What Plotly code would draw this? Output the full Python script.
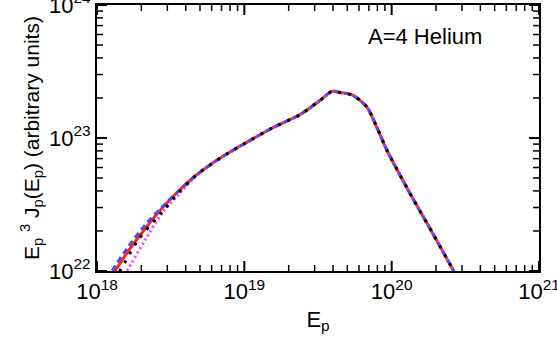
import plotly.graph_objects as go

# Energies (eV) and E^3 J(E) values
E_red = [1.20e18, 1.34e18, 1.62e18, 2.12e18, 2.76e18, 3.55e18, 4.62e18, 6.04e18, 7.74e18,
         1.01e19, 1.57e19, 2.39e19, 3.27e19, 3.94e19, 4.46e19, 5.47e19, 6.81e19,
         7.94e19, 9.29e19, 1.14e20, 1.40e20, 1.91e20, 2.61e20, 2.90e20]
F_red = [8.60e21, 1.02e22, 1.40e22, 2.08e22, 2.96e22, 3.96e22, 5.16e22, 6.43e22, 7.67e22,
         9.12e22, 1.20e23, 1.50e23, 1.92e23, 2.24e23, 2.20e23, 2.09e23, 1.70e23,
         1.20e23, 8.09e22, 5.25e22, 3.47e22, 1.90e22, 1.02e22, 8.20e21]

E_blue = [1.15e18, 1.26e18, 1.62e18, 2.12e18, 2.76e18, 3.55e18, 4.62e18, 6.04e18, 7.74e18,
          1.01e19, 1.57e19, 2.39e19, 3.27e19, 3.94e19, 4.46e19, 5.47e19, 6.81e19,
          7.94e19, 9.29e19, 1.14e20, 1.40e20, 1.91e20, 2.61e20, 2.90e20]
F_blue = [8.80e21, 1.00e22, 1.51e22, 2.21e22, 3.02e22, 3.96e22, 5.16e22, 6.43e22, 7.67e22,
          9.12e22, 1.20e23, 1.50e23, 1.92e23, 2.24e23, 2.20e23, 2.09e23, 1.70e23,
          1.20e23, 8.09e22, 5.25e22, 3.47e22, 1.90e22, 1.02e22, 8.20e21]

E_black = [1.30e18, 1.43e18, 1.90e18, 2.76e18, 3.55e18, 4.62e18, 6.04e18, 7.74e18,
           1.01e19, 1.57e19, 2.39e19, 3.27e19, 3.94e19, 4.46e19, 5.47e19, 6.81e19,
           7.94e19, 9.29e19, 1.14e20, 1.40e20, 1.91e20, 2.61e20, 2.90e20]
F_black = [8.60e21, 1.00e22, 1.71e22, 2.77e22, 3.85e22, 5.16e22, 6.43e22, 7.67e22,
           9.12e22, 1.20e23, 1.50e23, 1.92e23, 2.24e23, 2.20e23, 2.09e23, 1.70e23,
           1.20e23, 8.09e22, 5.25e22, 3.47e22, 1.90e22, 1.02e22, 8.20e21]

E_mag = [1.50e18, 1.60e18, 2.12e18, 2.76e18, 3.55e18, 4.62e18, 6.04e18, 7.74e18,
         1.01e19, 1.57e19, 2.39e19, 3.27e19, 3.94e19, 4.46e19, 5.47e19, 6.81e19,
         7.94e19, 9.29e19, 1.14e20, 1.40e20, 1.91e20, 2.61e20, 2.90e20]
F_mag = [8.60e21, 1.00e22, 1.71e22, 2.72e22, 3.72e22, 5.07e22, 6.43e22, 7.67e22,
         9.12e22, 1.20e23, 1.50e23, 1.92e23, 2.24e23, 2.20e23, 2.09e23, 1.70e23,
         1.20e23, 8.09e22, 5.25e22, 3.47e22, 1.90e22, 1.02e22, 8.20e21]

x_decades = [18, 19, 20, 21]
y_decades = [22, 23, 24]
x_range = [18, 21]
y_range = [22, 24]

FONT = "Liberation Sans, Arial, Helvetica, sans-serif"
SMOOTH = 0.8
W, H = 557, 346
ML, MR, MT, MB = 97, 18, 5, 75

fig = go.Figure()
fig.add_trace(go.Scatter(x=E_red, y=F_red, mode="lines",
                         line=dict(color="#ff2a10", width=3, shape="spline", smoothing=SMOOTH),
                         showlegend=False))
fig.add_trace(go.Scatter(x=E_mag, y=F_mag, mode="lines",
                         line=dict(color="#ff40ff", width=3, dash="2px,3px", shape="spline", smoothing=SMOOTH),
                         showlegend=False))
fig.add_trace(go.Scatter(x=E_blue, y=F_blue, mode="lines",
                         line=dict(color="#4a4aff", width=3, dash="6px,4px", shape="spline", smoothing=SMOOTH),
                         showlegend=False))
fig.add_trace(go.Scatter(x=E_black, y=F_black, mode="lines",
                         line=dict(color="black", width=3, dash="3px,7px", shape="spline", smoothing=SMOOTH),
                         showlegend=False))


def minor_vals(decades):
    return [m * 10.0 ** d for d in decades[:-1] for m in range(2, 10)]


# inward tick marks on all four sides, drawn as line segments whose length
# is a fixed number of pixels converted through the log-axis scale
px_per_dec_x = (W - ML - MR) / (x_range[1] - x_range[0])
px_per_dec_y = (H - MT - MB) / (y_range[1] - y_range[0])
x_lo, x_hi = 10.0 ** x_range[0], 10.0 ** x_range[1]
y_lo, y_hi = 10.0 ** y_range[0], 10.0 ** y_range[1]


def tick_trace(xvals, yvals, length, width):
    fy = 10.0 ** (length / px_per_dec_y)
    fx = 10.0 ** (length / px_per_dec_x)
    xs, ys = [], []
    for v in xvals:
        xs += [v, v, None, v, v, None]
        ys += [y_lo, y_lo * fy, None, y_hi, y_hi / fy, None]
    for v in yvals:
        xs += [x_lo, x_lo * fx, None, x_hi, x_hi / fx, None]
        ys += [v, v, None, v, v, None]
    return go.Scatter(x=xs, y=ys, mode="lines", line=dict(color="black", width=width),
                      connectgaps=False, showlegend=False, hoverinfo="skip",
                      cliponaxis=False)


fig.add_trace(tick_trace([10.0 ** v for v in x_decades], [10.0 ** v for v in y_decades], 10, 2))
fig.add_trace(tick_trace(minor_vals(x_decades), minor_vals(y_decades), 6, 1.5))


def main_axis(decades, rng):
    return dict(
        type="log", range=rng, showgrid=False, zeroline=False, automargin=False,
        showline=True, linecolor="black", linewidth=2, mirror=True,
        ticks="", tickmode="array",
        tickvals=[10.0 ** v for v in decades],
        ticktext=["10<sup>%d</sup>" % v for v in decades],
        ticklabeloverflow="allow",
        tickfont=dict(family=FONT, size=22, color="black"),
    )


xaxis = main_axis(x_decades, x_range)
xaxis["title"] = dict(text="E<sub>p</sub>", font=dict(family=FONT, size=22, color="black"),
                      standoff=8)
yaxis = main_axis(y_decades, y_range)
yaxis["title"] = dict(
    text="E<sub>p</sub> <sup>3</sup> J<sub>p</sub>(E<sub>p</sub>) (arbitrary units)",
    font=dict(family=FONT, size=21, color="black"), standoff=4)
fig.update_layout(xaxis=xaxis, yaxis=yaxis)

fig.add_annotation(x=0.876, y=0.88, xref="paper", yref="paper", text="A=4 Helium",
                   showarrow=False, xanchor="right", yanchor="middle",
                   font=dict(family=FONT, size=22, color="black"))

fig.update_layout(width=W, height=H, margin=dict(l=ML, r=MR, t=MT, b=MB),
                  plot_bgcolor="white", paper_bgcolor="white",
                  font=dict(family=FONT, color="black"))

fig.write_html("out.html")
